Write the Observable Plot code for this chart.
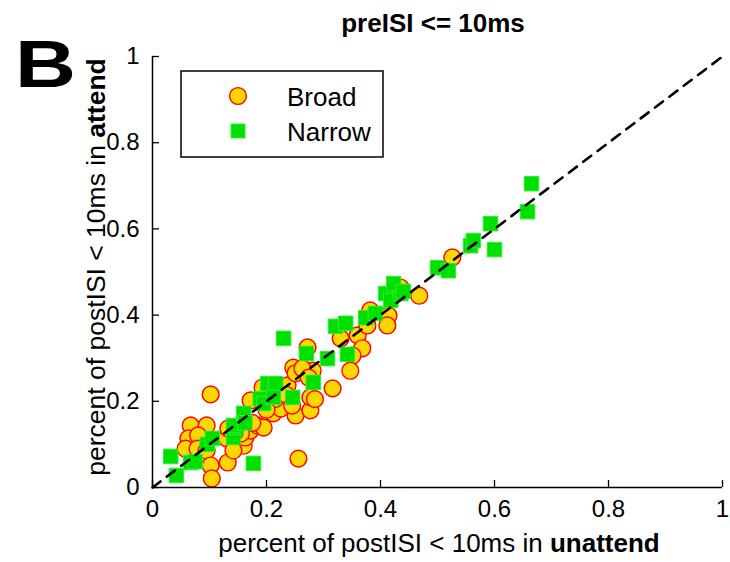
<!DOCTYPE html>
<html>
<head>
<meta charset="utf-8">
<script src="https://cdn.jsdelivr.net/npm/d3@7"></script>
<script src="https://cdn.jsdelivr.net/npm/@observablehq/plot@0.6"></script>
<style>
  html, body { margin: 0; padding: 0; background: #fff; }
  #chart { width: 730px; height: 562px; }
</style>
</head>
<body>
<div id="chart"></div>
<script>
const titleText = "preISI <= 10ms";
const panelLetter = "B";
const seriesNames = ["Broad", "Narrow"];
const xTicks = [0, 0.2, 0.4, 0.6, 0.8, 1];
const yTicks = [0, 0.2, 0.4, 0.6, 0.8, 1];
const xLabelParts = ["percent of postISI < 10ms in ", "unattend"];
const yLabelParts = ["percent of postISI < 10ms in ", "attend"];
const diagonal = [[0, 0], [1, 1]];

// Broad-spiking units [unattend, attend]
const broad = [
  [0.102,0.216],[0.067,0.144],[0.095,0.144],[0.063,0.114],[0.080,0.121],
  [0.058,0.090],[0.079,0.090],[0.095,0.086],[0.102,0.051],[0.104,0.021],
  [0.132,0.058],[0.130,0.114],[0.133,0.137],[0.151,0.102],[0.160,0.097],
  [0.142,0.086],[0.163,0.116],[0.172,0.132],[0.184,0.144],[0.195,0.139],
  [0.212,0.172],[0.225,0.183],[0.172,0.202],[0.193,0.232],[0.251,0.167],
  [0.277,0.179],[0.277,0.209],[0.237,0.237],[0.247,0.278],[0.251,0.265],
  [0.281,0.271],[0.272,0.325],[0.256,0.067],[0.263,0.276],[0.274,0.255],
  [0.316,0.230],[0.285,0.205],[0.330,0.346],[0.360,0.353],[0.368,0.323],
  [0.351,0.306],[0.347,0.271],[0.377,0.376],[0.382,0.411],[0.414,0.399],
  [0.412,0.376],[0.468,0.445],[0.526,0.534],[0.435,0.464],[0.215,0.205],
  [0.235,0.215],[0.245,0.190],[0.200,0.180],[0.175,0.150],[0.155,0.125],
  [0.145,0.130]
];

// Narrow-spiking units [unattend, attend]
const narrow = [
  [0.032,0.072],[0.042,0.028],[0.067,0.058],[0.075,0.060],[0.096,0.100],
  [0.105,0.114],[0.142,0.116],[0.147,0.139],[0.142,0.144],[0.160,0.172],
  [0.162,0.150],[0.177,0.056],[0.189,0.206],[0.195,0.195],[0.202,0.241],
  [0.216,0.241],[0.212,0.209],[0.246,0.209],[0.230,0.346],[0.270,0.311],
  [0.282,0.244],[0.307,0.299],[0.321,0.374],[0.339,0.381],[0.342,0.309],
  [0.374,0.394],[0.391,0.404],[0.409,0.450],[0.418,0.434],[0.435,0.450],
  [0.423,0.473],[0.440,0.455],[0.500,0.510],[0.519,0.503],[0.558,0.561],
  [0.563,0.573],[0.593,0.612],[0.600,0.552],[0.658,0.640],[0.665,0.705]
];

const broadStyle = {fill: "#ffd700", stroke: "#ff0000", strokeWidth: 1.4};
const narrowStyle = {fill: "#00e000", stroke: "#30ee30", strokeWidth: 1};
const font = "'Liberation Sans', Arial, Helvetica, sans-serif";

const W = 730, H = 562, ML = 152, MR = 8, MT = 56, MB = 75, TICK = 7;

const chart = Plot.plot({
  width: W,
  height: H,
  marginLeft: ML,
  marginRight: MR,
  marginTop: MT,
  marginBottom: MB,
  style: {fontFamily: font, fontSize: "24px", background: "#fff", color: "#000"},
  x: {domain: [0, 1], label: null},
  y: {domain: [0, 1], label: null},
  marks: [
    Plot.dot(broad, {x: d => d[0], y: d => d[1], r: 8.4, ...broadStyle}),
    Plot.dot(narrow, {x: d => d[0], y: d => d[1], symbol: "square", r: 8.2, ...narrowStyle}),
    Plot.line(diagonal, {x: d => d[0], y: d => d[1], stroke: "#000", strokeWidth: 2.6, strokeDasharray: "10,8"}),
    Plot.ruleY([0], {stroke: "#000", strokeWidth: 1.5}),
    Plot.ruleX([0], {stroke: "#000", strokeWidth: 1.5}),
    Plot.tickX(xTicks, {x: d => d, insetTop: (H - MT - MB) - TICK, stroke: "#000", strokeWidth: 1.3}),
    Plot.tickY(yTicks, {y: d => d, insetRight: (W - ML - MR) - TICK, stroke: "#000", strokeWidth: 1.3}),
    Plot.axisX(xTicks, {tickSize: 0, tickPadding: 12, tickFormat: d => String(d), fontSize: 24, label: null}),
    Plot.axisY(yTicks, {tickSize: 0, tickPadding: 13, tickFormat: d => String(d), fontSize: 24, label: null})
  ]
});

document.getElementById("chart").appendChild(chart);

const svg = d3.select(chart);

// Title
svg.append("text")
  .attr("x", 433).attr("y", 32)
  .attr("text-anchor", "middle")
  .style("font-family", font).style("font-size", "26px").style("font-weight", "bold")
  .text(titleText);

// Panel letter
svg.append("text")
  .attr("transform", "translate(15,87) scale(1.28,1)")
  .attr("text-anchor", "start")
  .style("font-family", font).style("font-size", "66px").style("font-weight", "bold")
  .text(panelLetter);

// X label
const xl = svg.append("text")
  .attr("x", 439).attr("y", 552)
  .attr("text-anchor", "middle")
  .style("font-family", font).style("font-size", "26px");
xl.append("tspan").text(xLabelParts[0]);
xl.append("tspan").style("font-weight", "bold").text(xLabelParts[1]);

// Y label
const yl = svg.append("text")
  .attr("transform", "translate(105,267) rotate(-90)")
  .attr("text-anchor", "middle")
  .style("font-family", font).style("font-size", "26.5px");
yl.append("tspan").text(yLabelParts[0]);
yl.append("tspan").style("font-weight", "bold").text(yLabelParts[1]);

// Legend
const lg = svg.append("g");
lg.append("rect")
  .attr("x", 181).attr("y", 71).attr("width", 202).attr("height", 86)
  .attr("fill", "#fff").attr("stroke", "#000").attr("stroke-width", 1.5);
lg.append("circle")
  .attr("cx", 238).attr("cy", 96).attr("r", 8.4)
  .attr("fill", broadStyle.fill).attr("stroke", broadStyle.stroke).attr("stroke-width", broadStyle.strokeWidth);
lg.append("rect")
  .attr("x", 231).attr("y", 124).attr("width", 14).attr("height", 14)
  .attr("fill", narrowStyle.fill).attr("stroke", narrowStyle.stroke);
lg.append("text")
  .attr("x", 287).attr("y", 106)
  .attr("text-anchor", "start")
  .style("font-family", font).style("font-size", "26px")
  .text(seriesNames[0]);
lg.append("text")
  .attr("x", 287).attr("y", 141)
  .attr("text-anchor", "start")
  .style("font-family", font).style("font-size", "26px")
  .text(seriesNames[1]);
</script>
</body>
</html>
